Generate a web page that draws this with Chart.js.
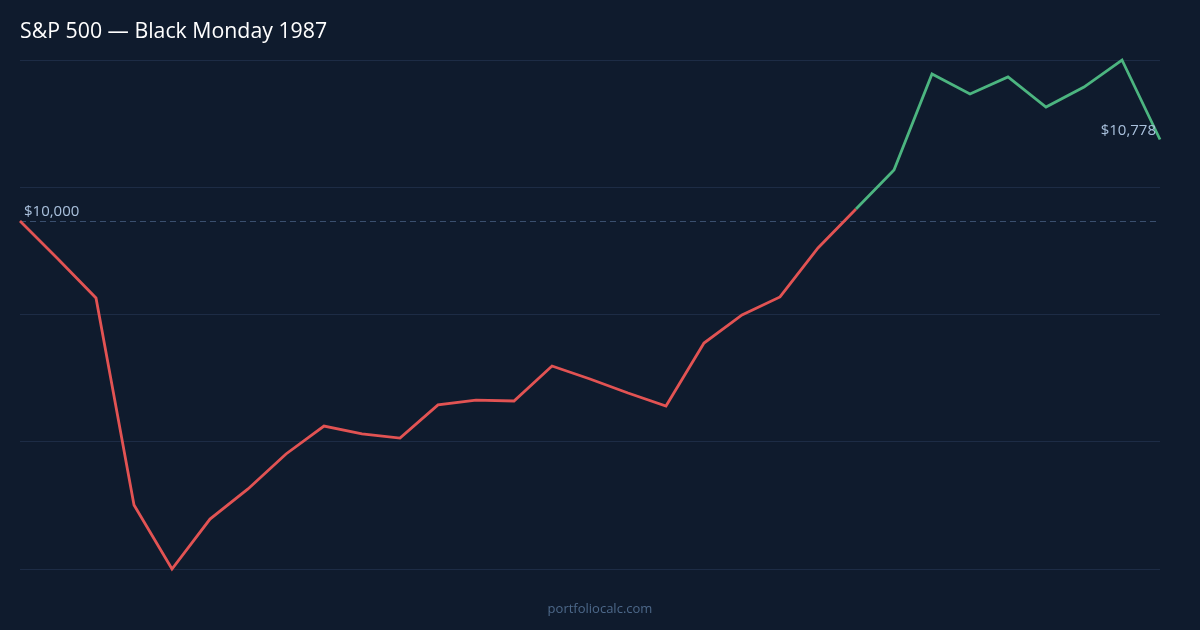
<!DOCTYPE html>
<html>
<head>
<meta charset="utf-8">
<script src="https://cdn.jsdelivr.net/npm/chart.js@4.4.1/dist/chart.umd.min.js"></script>
<style>
  html, body { margin: 0; padding: 0; background: #0f1b2d; }
  #wrap { width: 1200px; height: 630px; }
</style>
</head>
<body>
<div id="wrap"><canvas id="c" width="1200" height="630"></canvas></div>
<script>
const titleText = 'S&P 500 — Black Monday 1987';
const watermarkText = 'portfoliocalc.com';
const startValue = 10000;

const dayLabels = ['1','2','3','4','5','6','7','8','9','10','11','12','13','14','15','16',
  '17','18','19','20','21','22','23','24','25','26','27','28','29','30','31'];

const portfolioValues = [10000, 9637, 9265, 7289, 6678, 7155, 7442, 7776, 8043, 7967, 7928,
  8244, 8291, 8282, 8616, 8492, 8358, 8234, 8835, 9103, 9275, 9743, 10115, 10487, 11403,
  11212, 11375, 11088, 11279, 11537, 10778];

const COLORS = {
  bg: '#0f1b2d',
  grid: '#1d2c45',
  base: '#3a4f6e',
  down: '#e25353',
  up: '#4cb580',
  title: '#ffffff',
  label: '#a9c0dc',
  mark: '#4d6889'
};
const FONT = "'Open Sans', 'Noto Sans', sans-serif";

const fmt = v => '$' + Math.round(v).toLocaleString('en-US');

const decor = {
  id: 'decor',
  beforeDraw(chart) {
    const ctx = chart.ctx;
    ctx.save();
    ctx.fillStyle = COLORS.bg;
    ctx.fillRect(0, 0, chart.width, chart.height);
    ctx.restore();
  },
  beforeDatasetsDraw(chart) {
    const ctx = chart.ctx, a = chart.chartArea, y = chart.scales.y.getPixelForValue(startValue);
    ctx.save();
    ctx.strokeStyle = COLORS.base;
    ctx.lineWidth = 1;
    ctx.setLineDash([6, 4]);
    ctx.beginPath();
    ctx.moveTo(a.left, Math.round(y) + 0.5);
    ctx.lineTo(a.right - 4, Math.round(y) + 0.5);
    ctx.stroke();
    ctx.restore();
  },
  afterDraw(chart) {
    const ctx = chart.ctx, a = chart.chartArea, ys = chart.scales.y;
    ctx.save();
    ctx.fillStyle = COLORS.title;
    ctx.font = '21.3px ' + FONT;
    ctx.textAlign = 'left';
    ctx.textBaseline = 'alphabetic';
    ctx.fillText(titleText, 20, 38);

    ctx.fillStyle = COLORS.label;
    ctx.font = '15px ' + FONT;
    ctx.fillText(fmt(startValue), a.left + 4, ys.getPixelForValue(startValue) - 5);
    const last = portfolioValues[portfolioValues.length - 1];
    ctx.textAlign = 'right';
    ctx.fillText(fmt(last), a.right - 4, ys.getPixelForValue(last) - 5);

    ctx.fillStyle = COLORS.mark;
    ctx.font = '13px ' + FONT;
    ctx.textAlign = 'center';
    ctx.fillText(watermarkText, chart.width / 2, 613);
    ctx.restore();
  }
};

const yMin = Math.min(...portfolioValues);
const yMax = Math.max(...portfolioValues);

new Chart(document.getElementById('c'), {
  type: 'line',
  data: {
    labels: dayLabels,
    datasets: [{
      data: portfolioValues,
      borderWidth: 2.8,
      pointRadius: 0,
      pointHoverRadius: 0,
      tension: 0,
      fill: false,
      clip: false,
      borderColor: COLORS.down,
      segment: {
        borderColor: c => (c.p0.parsed.y > startValue ? COLORS.up : COLORS.down)
      }
    }]
  },
  options: {
    responsive: false,
    animation: false,
    devicePixelRatio: 1,
    layout: { padding: { left: 20, right: 40, top: 60, bottom: 61 } },
    plugins: { legend: { display: false }, tooltip: { enabled: false }, title: { display: false } },
    scales: {
      x: { type: 'category', display: false, offset: false },
      y: {
        min: yMin,
        max: yMax,
        afterBuildTicks(scale) {
          const n = 4, t = [];
          for (let i = 0; i <= n; i++) t.push({ value: yMin + (yMax - yMin) * i / n });
          scale.ticks = t;
        },
        border: { display: false },
        ticks: { display: false },
        grid: { color: COLORS.grid, lineWidth: 1, drawTicks: false }
      }
    }
  },
  plugins: [decor]
});
</script>
</body>
</html>
